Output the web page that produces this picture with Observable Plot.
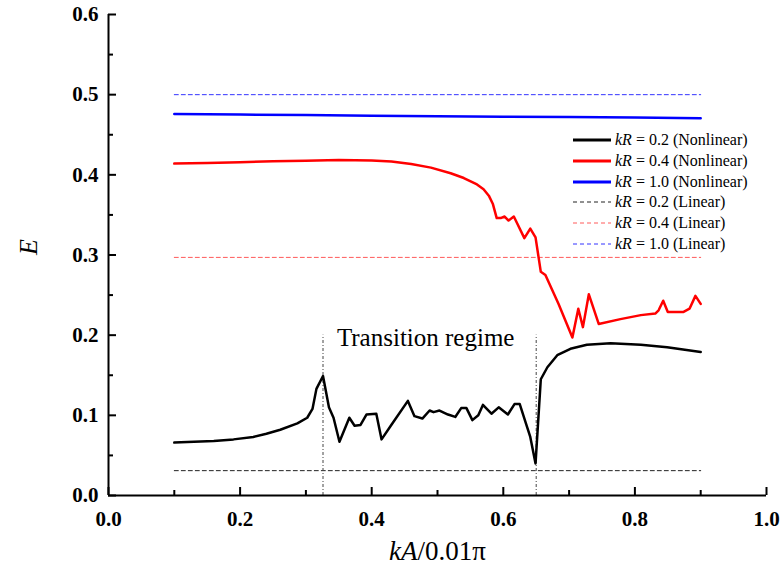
<!DOCTYPE html>
<html><head><meta charset="utf-8">
<script src="https://cdn.jsdelivr.net/npm/d3@7"></script>
<script src="https://cdn.jsdelivr.net/npm/@observablehq/plot@0.6"></script>
<style>
body{margin:0;background:#fff;}
#wrap{position:relative;width:781px;height:574px;overflow:hidden;font-family:"Liberation Serif","Times New Roman",serif;}
#wrap svg text{font-family:"Liberation Serif","Times New Roman",serif;}
#legend{position:absolute;left:572px;top:130px;font-family:"Liberation Serif","Times New Roman",serif;font-size:16px;color:#000;}
#legend .row{display:flex;align-items:center;height:20.7px;white-space:nowrap;}
#legend svg{margin-right:3px;}
</style></head><body><div id="wrap"></div>
<script>
// kR = 0.2 (Nonlinear)
const blackX = [0.10,0.13,0.16,0.19,0.22,0.24,0.261,0.287,0.302,0.310,0.316,0.326,0.335,0.342,0.351,0.366,0.374,0.383,0.392,0.407,0.415,0.429,0.455,0.465,0.477,0.488,0.494,0.503,0.516,0.527,0.536,0.544,0.553,0.562,0.569,0.582,0.593,0.607,0.617,0.625,0.634,0.641,0.649,0.657,0.667,0.682,0.702,0.727,0.763,0.809,0.849,0.900];
const blackY = [0.066,0.067,0.068,0.070,0.073,0.077,0.082,0.090,0.097,0.108,0.133,0.149,0.110,0.097,0.067,0.097,0.087,0.088,0.101,0.102,0.070,0.087,0.118,0.099,0.096,0.106,0.104,0.106,0.101,0.098,0.109,0.109,0.094,0.100,0.113,0.102,0.110,0.101,0.114,0.114,0.091,0.073,0.040,0.145,0.160,0.175,0.183,0.188,0.190,0.188,0.185,0.179];
// kR = 0.4 (Nonlinear)
const redX = [0.10,0.15,0.20,0.25,0.30,0.35,0.40,0.43,0.46,0.49,0.52,0.54,0.56,0.57,0.578,0.584,0.590,0.596,0.602,0.608,0.616,0.632,0.641,0.649,0.657,0.664,0.684,0.705,0.714,0.721,0.730,0.745,0.778,0.809,0.831,0.836,0.843,0.850,0.874,0.883,0.892,0.900];
const redY = [0.414,0.4148,0.4158,0.4168,0.4177,0.4185,0.4180,0.4165,0.4135,0.409,0.402,0.396,0.388,0.382,0.374,0.364,0.346,0.346,0.348,0.343,0.348,0.321,0.333,0.322,0.279,0.275,0.239,0.197,0.233,0.210,0.251,0.214,0.220,0.225,0.227,0.231,0.243,0.229,0.229,0.233,0.249,0.239];
// kR = 1.0 (Nonlinear)
const blueX = [0.1,0.2,0.3,0.4,0.5,0.6,0.7,0.8,0.9];
const blueY = [0.476,0.4752,0.4745,0.4738,0.4730,0.4725,0.4720,0.4715,0.4705];
// Linear theory levels
const linearLabels = ["kR = 0.2 (Linear)","kR = 0.4 (Linear)","kR = 1.0 (Linear)"];
const linearE = [0.031,0.297,0.5];
const linearXRange = [0.1,0.9];
// transition regime boundaries
const transitionX = [0.326,0.650];
const transitionTop = 0.2;
const annotation = [{x:0.482, y:0.196, text:"Transition regime"}];
// ticks
const xMajor = [0,0.2,0.4,0.6,0.8,1.0];
const xMinor = [0.1,0.3,0.5,0.7,0.9];
const yMajor = [0,0.1,0.2,0.3,0.4,0.5,0.6];
const yMinor = [0.05,0.15,0.25,0.35,0.45,0.55];

const FONT = '"Liberation Serif", "Times New Roman", serif';
const toRows = (xs, ys) => xs.map((x,i)=>({x, y: ys[i]}));
const linColors = ["#222","#ff5a5a","#3333ff"];

const linearMarks = linearE.map((e,i)=>Plot.line(linearXRange.map(x=>({x,y:e})), {x:"x", y:"y", stroke: linColors[i], strokeWidth:1, strokeDasharray:"4,3"}));

const plot = Plot.plot({
  width: 781, height: 574,
  marginLeft: 108, marginRight: 15, marginTop: 14, marginBottom: 79,
  style: {fontFamily: FONT, background: "white", color:"#000"},
  x: {domain: [0,1]},
  y: {domain: [0,0.6]},
  marks: [
    ...linearMarks,
    Plot.ruleX(transitionX, {y1: 0, y2: transitionTop, stroke:"#444", strokeWidth:1, strokeDasharray:"3,2,1,2"}),
    Plot.line(toRows(blueX, blueY), {x:"x", y:"y", stroke:"#0000ff", strokeWidth:2.5}),
    Plot.line(toRows(redX, redY), {x:"x", y:"y", stroke:"#ff0000", strokeWidth:2.5}),
    Plot.line(toRows(blackX, blackY), {x:"x", y:"y", stroke:"#000", strokeWidth:2.5}),
    Plot.text(annotation, {x:"x", y:"y", text:"text", fontSize:25, fill:"#000", fontFamily:FONT}),
    Plot.axisX(xMajor, {tickSize:-8, tickFormat:()=>"", label:null, strokeWidth:2}),
    Plot.axisX(xMinor, {tickSize:-5, tickFormat:()=>"", label:null, strokeWidth:2}),
    Plot.axisX(xMajor, {tickSize:0, tickPadding:16, tickFormat:d3.format(".1f"), label:null, fontSize:21, fontWeight:"bold", fontFamily:FONT}),
    Plot.axisY(yMajor, {tickSize:-8, tickFormat:()=>"", label:null, strokeWidth:2}),
    Plot.axisY(yMinor, {tickSize:-5, tickFormat:()=>"", label:null, strokeWidth:2}),
    Plot.axisY(yMajor, {tickSize:0, tickPadding:10, tickFormat:d3.format(".1f"), label:null, fontSize:21, fontWeight:"bold", fontFamily:FONT}),
    Plot.ruleX([0], {strokeWidth:2}),
    Plot.ruleY([0], {strokeWidth:2}),
    Plot.text(["E"], {frameAnchor:"left", dx:-80, rotate:-90, fontSize:26, fontStyle:"italic", fontFamily:FONT}),
    Plot.text(["kA/0.01π"], {frameAnchor:"bottom", dy:64, fontSize:27, fill:"#000", fontFamily:FONT})
  ]
});
document.getElementById("wrap").appendChild(plot);

// italicise variable names in the x label
d3.select(plot).selectAll("text").each(function(){
  const t = d3.select(this);
  if (t.text() === "kA/0.01π") {
    t.text(null);
    t.append("tspan").attr("font-style","italic").text("kA");
    t.append("tspan").text("/0.01π");
  }
});

// legend
const legendItems = [
  {label:"0.2 (Nonlinear)", color:"#000", width:3, dash:null},
  {label:"0.4 (Nonlinear)", color:"#ff0000", width:3, dash:null},
  {label:"1.0 (Nonlinear)", color:"#0000ff", width:3, dash:null},
  {label:"0.2 (Linear)", color:linColors[0], width:1, dash:"4,3"},
  {label:"0.4 (Linear)", color:linColors[1], width:1, dash:"4,3"},
  {label:"1.0 (Linear)", color:linColors[2], width:1, dash:"4,3"}
];
const leg = d3.select("#wrap").append("div").attr("id","legend");
legendItems.forEach(it=>{
  const row = leg.append("div").attr("class","row");
  const s = row.append("svg").attr("width",40).attr("height",10);
  s.append("line").attr("x1",1).attr("x2",39).attr("y1",5).attr("y2",5)
    .attr("stroke",it.color).attr("stroke-width",it.width).attr("stroke-dasharray",it.dash);
  const sp = row.append("span");
  sp.append("i").text("kR");
  sp.append("span").text(" = " + it.label);
});
</script>
</body></html>
